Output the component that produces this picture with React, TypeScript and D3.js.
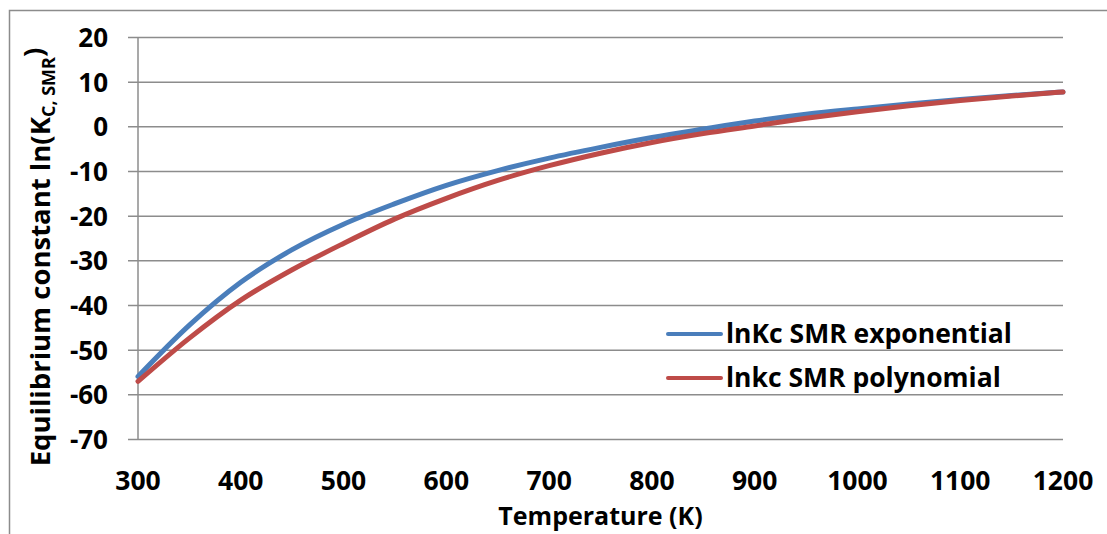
import React, { useEffect, useRef } from 'react';
import * as d3 from 'd3';

// temperatures (K) at which the curves were read
const temps = [300, 350, 400, 450, 500, 550, 600, 650, 700, 750, 800, 850, 900, 950, 1000, 1050, 1100, 1150, 1200];
const expValues = [-55.9, -44.4, -34.8, -27.5, -21.8, -17.2, -13.1, -9.8, -7.0, -4.6, -2.4, -0.5, 1.3, 2.8, 4.0, 5.1, 6.1, 7.0, 7.8];
const polyValues = [-57.0, -47.3, -38.8, -32.0, -26.1, -20.6, -16.0, -12.0, -8.7, -5.9, -3.5, -1.5, 0.2, 1.9, 3.4, 4.7, 5.9, 6.9, 7.8];
const xTicks = [300, 400, 500, 600, 700, 800, 900, 1000, 1100, 1200];
const yTicks = [20, 10, 0, -10, -20, -30, -40, -50, -60, -70];
const seriesNames = ['lnKc SMR exponential', 'lnkc SMR polynomial'];
const seriesColors = ['#4a7ebb', '#be4b48'];

const FONT = "'Open Sans', Lato, sans-serif";

const App = () => {
    const ref = useRef<SVGSVGElement>(null);

    const graph = () => {
        const svg = d3.select(ref.current);
        svg.selectAll('*').remove();

        const left = 138, right = 1063, top = 37.5, bottom = 439.5;
        const gridColor = '#8c8c8c';

        const x = d3.scaleLinear().domain([300, 1200]).range([left, right]);
        const y = d3.scaleLinear().domain([-70, 20]).range([bottom, top]);

        // outer chart frame (runs off the picture at right and bottom)
        svg.append('rect')
            .attr('x', 9.5).attr('y', 10.5)
            .attr('width', 1300).attr('height', 700)
            .attr('fill', 'white')
            .attr('stroke', gridColor).attr('stroke-width', 1.5);

        // horizontal gridlines + y ticks
        svg.append('g').selectAll('line.grid')
            .data(yTicks)
            .enter()
            .append('line')
            .attr('x1', left - 10).attr('x2', right)
            .attr('y1', d => y(d)).attr('y2', d => y(d))
            .attr('stroke', gridColor).attr('stroke-width', 1.5);

        // y axis line
        svg.append('line')
            .attr('x1', left).attr('x2', left)
            .attr('y1', top).attr('y2', bottom)
            .attr('stroke', gridColor).attr('stroke-width', 1.5);

        svg.append('g').selectAll('text')
            .data(yTicks)
            .enter()
            .append('text')
            .attr('x', 108)
            .attr('y', d => y(d))
            .attr('dy', '0.36em')
            .attr('text-anchor', 'end')
            .style('font-family', FONT).style('font-weight', '700').style('font-size', '26px')
            .text(d => d);

        svg.append('g').selectAll('text')
            .data(xTicks)
            .enter()
            .append('text')
            .attr('x', d => x(d))
            .attr('y', 490)
            .attr('text-anchor', 'middle')
            .style('font-family', FONT).style('font-weight', '700').style('font-size', '26.5px')
            .text(d => d);

        // axis titles
        svg.append('text')
            .attr('x', (left + right) / 2).attr('y', 525)
            .attr('text-anchor', 'middle')
            .style('font-family', FONT).style('font-weight', '700').style('font-size', '25px')
            .text('Temperature (K)');

        const yTitle = svg.append('text')
            .attr('transform', 'translate(50,257) rotate(-90)')
            .attr('text-anchor', 'middle')
            .style('font-family', FONT).style('font-weight', '700').style('font-size', '27.5px');
        yTitle.append('tspan').text('Equilibrium constant ln(K');
        yTitle.append('tspan').attr('dy', '0.3em').style('font-size', '18px').text('C, SMR');
        yTitle.append('tspan').attr('dy', '-0.45em').text(')');

        // series
        const line = d3.line<number>()
            .x((d, i) => x(temps[i]))
            .y(d => y(d))
            .curve(d3.curveMonotoneX);

        [expValues, polyValues].forEach((vals, i) => {
            svg.append('path')
                .datum(vals)
                .attr('d', line)
                .attr('fill', 'none')
                .attr('stroke', seriesColors[i])
                .attr('stroke-width', 5)
                .attr('stroke-linecap', 'round');
        });

        // legend
        const legend = svg.append('g');
        seriesNames.forEach((name, i) => {
            const ly = 334 + i * 44;
            legend.append('line')
                .attr('x1', 668).attr('x2', 721)
                .attr('y1', ly).attr('y2', ly)
                .attr('stroke', seriesColors[i]).attr('stroke-width', 4)
                .attr('stroke-linecap', 'round');
            legend.append('text')
                .attr('x', 726).attr('y', ly + 9)
                .style('font-family', FONT).style('font-weight', '700').style('font-size', '26.5px')
                .text(name);
        });
    };

    useEffect(() => graph());

    return (
        <svg ref={ref} width="1107" height="534"
            style={{ position: 'absolute', left: 0, top: 0, background: 'white' }}></svg>
    );
};

export default App;
